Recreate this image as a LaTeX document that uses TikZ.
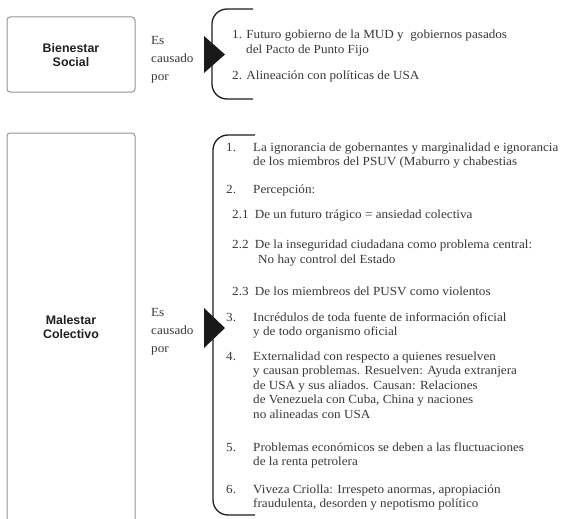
\documentclass[tikz,border=0pt]{standalone}
\usepackage{fontspec}
\setmainfont[FakeStretch=1.06]{Liberation Serif}
\setsansfont{Liberation Sans}
% multi-line text whose base anchor sits on the first line
\newcommand{\toplines}[1]{\begin{tabular}[t]{@{}l@{}}#1\end{tabular}}
\begin{document}
\begin{tikzpicture}[x=1pt,y=-1pt,
  boxline/.style={draw=black!42, line width=1pt, rounded corners=3pt},
  brace/.style={draw=black!88, line width=1.3pt, rounded corners=15pt},
  pointer/.style={fill=black!90},
  lab/.style={font=\sffamily\bfseries\fontsize{12.4}{14.5}\selectfont, text=black!88, align=center, inner sep=0pt},
  txt/.style={font=\rmfamily\fontsize{12.4}{14.5}\selectfont, text=black!78, anchor=base west, inner sep=0pt},
  cause/.style={font=\rmfamily\fontsize{12.4}{18}\selectfont, text=black!78, anchor=base west, inner sep=0pt}]
\useasboundingbox (0,0) rectangle (562,519);

% ---- Bienestar Social ----
\draw[boxline] (7,17) rectangle (135,92);
\node[lab] (bien) at (71,55) {Bienestar\\Social};
\node[cause] (bcaus) at (151,45) {\toplines{Es\\causado\\por}};
\draw[brace] (253,9) -| (212,99) -- (253,99);
\fill[pointer] (204,36) -- (225,54.5) -- (204,73) -- cycle;
\node[txt] (b1) at (232,39) {1. Futuro gobierno de la MUD y \ gobiernos pasados};
\node[txt] (b1b) at (246,54) {del Pacto de Punto Fijo};
\node[txt] (b2) at (232,80) {2. Alineación con políticas de USA};

% ---- Malestar Colectivo ----
\draw[boxline] (7,525) -- (7,133) -- (135,133) -- (135,525);
\node[lab] (mal) at (71,327) {Malestar\\Colectivo};
\node[cause] (mcaus) at (151,316) {\toplines{Es\\causado\\por}};
\draw[brace] (255,135) -| (213,515) -- (255,515);
\fill[pointer] (204,308) -- (225,328) -- (204,348) -- cycle;

% numbered causes
\node[txt] (n1) at (226,151) {1.};
\node[txt] (t1) at (253,151) {\toplines{La ignorancia de gobernantes y marginalidad e ignorancia\\de los miembros del PSUV (Maburro y chabestias}};
\node[txt] (n2) at (226,193) {2.};
\node[txt] (t2) at (253,193) {Percepción:};
\node[txt] (t21) at (232,218) {2.1\enspace De un futuro trágico = ansiedad colectiva};
\node[txt] (t22) at (232,248) {2.2\enspace De la inseguridad ciudadana como problema central:};
\node[txt] (t22b) at (258,263.5) {No hay control del Estado};
\node[txt] (t23) at (232,295) {2.3\enspace De los miembreos del PUSV como violentos};
\node[txt] (n3) at (226,321) {3.};
\node[txt] (t3) at (253,321) {\toplines{Incrédulos de toda fuente de información oficial\\y de todo organismo oficial}};
\node[txt] (n4) at (226,360) {4.};
\node[txt] (t4) at (253,360) {\toplines{Externalidad con respecto a quienes resuelven\\y causan problemas. Resuelven: Ayuda extranjera\\de USA y sus aliados. Causan: Relaciones\\de Venezuela con Cuba, China y naciones\\no alineadas con USA}};
\node[txt] (n5) at (226,451) {5.};
\node[txt] (t5) at (253,451) {\toplines{Problemas económicos se deben a las fluctuaciones\\de la renta petrolera}};
\node[txt] (n6) at (226,493) {6.};
\node[txt] (t6) at (253,493) {\toplines{Viveza Criolla: Irrespeto anormas, apropiación\\fraudulenta, desorden y nepotismo político}};
\end{tikzpicture}
\end{document}
